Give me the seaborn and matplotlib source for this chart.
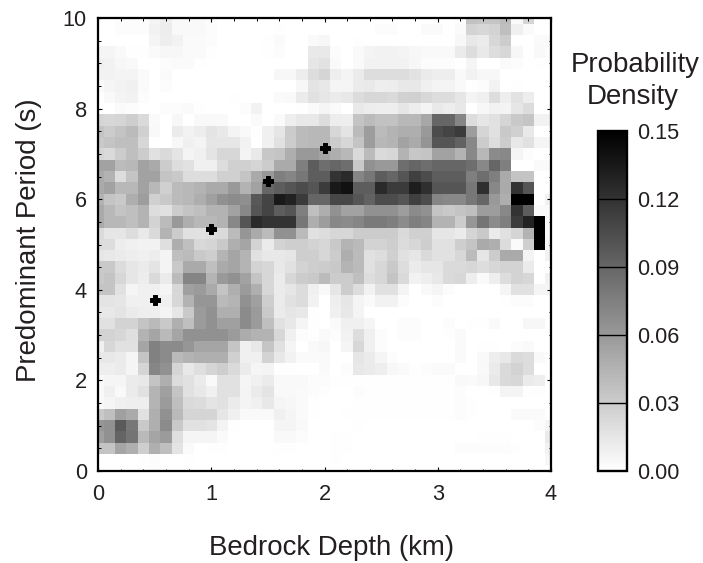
import numpy as np
import pandas as pd
import matplotlib
matplotlib.use("Agg")
import matplotlib.pyplot as plt
import seaborn as sns

# --- DATA ---
# grid nodes, cells are centred on these
depths = [round(0.1 * i, 1) for i in range(41)]
periods = [10 - 0.25 * i for i in range(41)]

# density x 1000, one row per period from 10 s down to 0 s
r00 = [0,0,2,2,2,7,10,4,4,4,2,0,0,0,0,0,0,0,0,0, 0,0,0,0,0,0,0,0,0,0,0,0,2,36,34,34,40,3,25,1,0]
r01 = [0,0,2,2,2,8,11,4,4,4,2,0,0,0,0,0,1,0,0,0, 0,0,0,0,0,2,2,0,0,3,3,0,3,26,24,26,38,9,3,0,0]
r02 = [0,0,0,0,0,6,10,8,3,3,2,0,0,0,0,1,3,0,0,3, 5,0,0,1,0,0,0,0,0,0,0,0,5,14,12,24,30,0,0,3,3]
r03 = [6,6,4,1,1,3,5,5,3,3,1,0,0,0,0,1,2,0,0,13, 13,2,0,3,7,8,8,7,5,4,4,4,12,20,13,20,24,5,0,4,2]
r04 = [9,8,5,4,0,0,2,3,3,1,0,0,0,0,0,0,0,0,0,15, 17,3,0,3,8,8,8,8,5,2,2,2,0,6,0,0,3,2,0,1,1]
r05 = [8,8,7,7,3,0,3,0,0,0,0,0,0,0,0,0,5,5,11,20, 25,10,7,12,20,20,20,20,17,12,10,10,4,8,5,5,0,0,0,0,0]
r06 = [3,6,8,9,3,0,2,0,0,0,0,0,0,0,0,0,0,0,5,16, 14,6,6,12,13,10,11,14,14,9,7,7,4,1,2,8,0,1,0,0,0]
r07 = [1,4,7,8,2,0,0,0,0,0,0,0,1,0,0,0,3,4,12,18, 15,12,14,21,24,24,22,27,28,24,20,20,15,7,9,20,10,17,11,0,0]
r08 = [0,0,3,2,0,0,2,2,3,1,0,0,0,2,8,0,0,0,1,3, 6,3,0,13,11,10,10,15,11,7,13,11,14,0,5,8,7,15,21,0,0]
r09 = [25,24,25,29,22,3,0,5,0,4,4,4,0,0,3,0,3,10,14,14, 20,11,10,35,40,36,36,42,42,52,90,90,72,20,15,18,25,32,34,8,8]
r10 = [35,30,35,40,28,4,0,12,8,11,16,13,7,4,1,9,15,31,40,42, 42,24,16,40,58,40,45,48,48,60,105,110,115,58,25,18,32,28,13,0,0]
r11 = [32,35,38,38,24,0,0,5,9,7,15,15,15,8,0,9,18,30,40,42, 42,30,24,35,58,42,44,55,50,63,100,100,92,70,30,20,30,14,18,6,6]
r12 = [25,22,30,38,30,18,22,16,7,9,16,24,24,7,13,33,35,48,60,60, 55,48,42,22,40,22,24,45,33,35,55,55,45,70,42,68,70,6,2,0,0]
r13 = [55,55,40,42,55,50,30,20,18,9,9,20,28,28,25,30,50,50,75,95, 85,90,85,32,65,60,60,85,90,85,90,90,90,85,70,90,75,0,0,3,3]
r14 = [50,45,20,35,55,55,35,32,20,20,20,28,28,35,50,60,75,72,80,95, 95,120,125,72,80,95,90,100,112,105,95,95,95,75,85,75,50,35,35,0,0]
r15 = [50,55,42,42,55,42,28,40,42,45,50,50,60,45,55,90,95,100,105,100, 115,135,140,95,95,125,115,115,132,122,100,100,100,80,122,70,50,120,100,0,0]
r16 = [45,35,32,48,58,28,32,40,42,48,56,65,68,66,98,110,135,130,115,90, 90,108,108,100,92,105,105,100,112,105,72,70,70,80,90,60,48,150,150,0,8]
r17 = [50,42,35,38,45,20,18,30,35,38,45,45,55,70,100,110,95,100,75,38, 48,65,55,55,65,65,65,58,68,65,35,32,35,38,58,58,70,120,95,3,3]
r18 = [50,42,42,38,45,26,40,60,48,42,42,45,70,100,125,120,120,120,80,48, 58,70,68,72,78,78,75,68,75,72,45,45,30,62,82,68,75,115,130,150,3]
r19 = [22,15,15,20,13,22,45,30,18,18,20,22,40,62,50,40,65,65,40,18, 20,24,24,30,30,30,30,22,28,28,15,15,12,25,32,12,18,25,45,150,3]
r20 = [20,20,11,9,8,8,19,48,38,23,25,32,47,53,26,12,26,29,29,26, 24,32,44,41,26,26,29,21,24,29,18,18,29,35,50,47,21,3,29,150,5]
r21 = [15,14,12,10,9,11,7,38,40,32,29,44,53,44,18,14,14,15,29,29, 24,30,48,40,18,20,28,18,15,22,18,18,24,40,15,30,50,50,7,0,8]
r22 = [32,32,21,15,12,16,7,32,50,50,38,50,53,44,26,24,14,18,26,29, 30,32,44,40,18,24,32,20,12,15,15,22,22,24,20,24,26,26,12,0,0]
r23 = [32,35,24,15,11,22,12,40,72,72,44,60,65,55,35,24,12,24,30,32, 40,30,30,38,20,24,35,22,8,10,14,22,24,10,3,10,20,26,24,0,8]
r24 = [35,35,18,6,9,9,6,24,56,59,50,35,47,59,47,24,12,15,21,9, 4,15,30,20,8,18,18,7,0,4,6,2,0,0,0,0,6,18,18,6,6]
r25 = [16,16,15,9,9,9,9,24,45,62,62,41,44,65,56,29,12,18,21,8, 0,10,15,7,3,8,8,2,0,0,2,0,0,0,0,0,1,2,2,0,0]
r26 = [14,14,16,12,10,10,7,15,32,59,65,47,47,68,59,32,12,15,14,1, 0,9,14,7,0,0,0,0,0,0,0,0,0,0,0,0,0,0,0,0,0]
r27 = [18,18,26,26,35,41,32,47,38,59,65,56,56,68,59,38,18,14,6,1, 0,3,9,9,6,0,0,2,2,0,0,2,0,1,1,3,0,0,5,5,0]
r28 = [26,26,24,19,45,53,41,53,65,65,65,65,59,49,45,45,24,9,2,1, 3,2,8,20,9,2,0,2,2,0,0,1,3,0,0,0,0,0,0,0,0]
r29 = [9,24,18,18,53,74,68,68,62,53,53,53,34,9,14,34,18,6,0,4, 5,0,6,24,9,2,0,0,0,0,0,0,3,0,1,1,0,2,3,0,0]
r30 = [14,14,12,6,35,74,68,41,45,47,47,47,28,9,9,26,14,8,3,3, 3,0,0,15,12,6,2,0,0,0,0,0,3,0,4,10,14,22,20,4,0]
r31 = [10,10,12,6,25,71,65,25,14,19,25,29,22,12,6,7,1,1,0,0, 3,0,2,14,12,10,5,3,1,2,3,3,0,0,4,12,22,26,20,0,0]
r32 = [4,6,6,12,14,35,47,21,18,12,4,18,18,6,9,12,4,4,4,2, 2,1,1,1,1,1,1,1,1,1,1,1,4,3,5,14,22,24,12,10,0]
r33 = [4,9,4,12,18,44,56,35,18,14,9,18,18,7,12,16,4,4,3,2, 1,0,0,2,1,1,1,1,1,1,1,1,2,0,0,1,7,7,1,1,0]
r34 = [3,6,9,10,10,44,59,38,22,21,16,18,12,7,9,14,6,5,3,1, 0,0,0,1,1,1,1,1,1,1,1,1,2,1,0,0,0,0,0,0,0]
r35 = [32,38,56,50,18,47,65,41,25,25,25,15,9,4,4,4,9,6,3,1, 0,0,1,1,1,1,1,1,1,1,1,1,2,1,0,0,0,3,3,3,0]
r36 = [62,65,97,80,32,47,68,32,18,18,16,7,1,0,0,0,6,6,4,0, 0,0,0,1,0,0,0,0,0,0,0,0,0,0,0,0,0,0,0,2,6]
r37 = [56,65,91,82,41,53,59,19,6,6,6,3,0,0,0,0,4,4,2,0, 0,1,1,0,0,0,0,0,0,0,0,0,0,0,1,1,1,0,0,0,12]
r38 = [35,35,53,47,29,47,38,16,3,0,1,1,0,0,0,0,1,1,0,0, 0,1,1,0,0,0,0,0,0,0,0,0,2,2,2,2,2,1,0,0,8]
r39 = [0,0,0,0,1,2,0,0,1,0,0,0,0,0,0,0,0,0,0,0, 0,1,0,0,0,0,0,0,0,0,0,0,0,0,0,0,0,0,0,0,5]
r40 = [0,0,0,0,1,2,0,0,1,0,0,0,0,0,0,0,0,0,0,0, 0,0,0,0,0,0,0,0,0,0,0,0,0,0,0,0,0,0,0,0,0]
rows = [r00,r01,r02,r03,r04,r05,r06,r07,r08,r09,r10,r11,r12,r13,r14,r15,r16,r17,r18,r19,
        r20,r21,r22,r23,r24,r25,r26,r27,r28,r29,r30,r31,r32,r33,r34,r35,r36,r37,r38,r39,r40]

# black markers
mark_depth = [0.5, 1.0, 1.5, 2.0]
mark_period = [3.78, 5.35, 6.4, 7.13]

x_major = [0, 1, 2, 3, 4]
y_major = [0, 2, 4, 6, 8, 10]
cbar_ticks = [0.0, 0.03, 0.06, 0.09, 0.12, 0.15]
cbar_labels = ["0.00", "0.03", "0.06", "0.09", "0.12", "0.15"]

df = pd.DataFrame(np.array(rows) / 1000.0, index=periods, columns=depths)

# heatmap cells sit on integer+0.5 positions
def x_pos(d):
    return np.asarray(d) / 0.1 + 0.5

def y_pos(p):
    return (10 - np.asarray(p)) / 0.25 + 0.5

plt.rcParams['font.family'] = ['Liberation Sans', 'DejaVu Sans']
INK = '#231f20'

W, H = 703, 563
fig = plt.figure(figsize=(W / 100, H / 100), dpi=100)
ax = fig.add_axes([98 / W, (H - 471) / H, 453 / W, 453 / H])
cax = fig.add_axes([598 / W, (H - 471) / H, 29 / W, 340 / H])

sns.heatmap(df, ax=ax, cbar_ax=cax, cmap='gray_r', vmin=0, vmax=0.15,
            xticklabels=False, yticklabels=False,
            cbar_kws={'ticks': cbar_ticks})

# cut the outer half cells, axis runs from node 0 to node 40
ax.set_xlim(x_pos(0), x_pos(4))
ax.set_ylim(y_pos(0), y_pos(10))

ax.scatter(x_pos(mark_depth), y_pos(mark_period), marker='P', s=42, color='black',
           edgecolors='black', linewidths=0.7, zorder=5)

for s in ax.spines.values():
    s.set_visible(True)
    s.set_linewidth(1.6)
    s.set_color('black')

ax.set_xticks(x_pos(x_major))
ax.set_xticklabels(x_major)
ax.set_yticks(y_pos(y_major))
ax.set_yticklabels(y_major, rotation=0)
ax.set_xticks(x_pos(np.arange(0, 4.01, 0.2)), minor=True)
ax.set_yticks(y_pos(np.arange(0, 10.01, 0.5)), minor=True)
ax.tick_params(which='major', direction='in', length=3.2, width=0.8, top=True, right=True,
               labelsize=15.7, labelcolor=INK)
ax.tick_params(which='minor', direction='in', length=1.8, width=0.7, top=True, right=True)
ax.tick_params(axis='x', which='major', pad=9)
ax.tick_params(axis='y', which='major', pad=8)

ax.set_xlabel("Bedrock Depth (km)", fontsize=19.9, color=INK, va='baseline')
ax.xaxis.set_label_coords((332 - 98) / 453, (471 - 555) / 453)
ax.set_ylabel("Predominant Period (s)", fontsize=19.9, color=INK, va='baseline')
ax.yaxis.set_label_coords((36 - 98) / 453, (471 - 240) / 453)

cbar = ax.collections[0].colorbar
cbar.outline.set_visible(True)
cbar.outline.set_linewidth(1.7)
cbar.outline.set_edgecolor('black')
cbar.set_ticklabels(cbar_labels)
cbar.ax.tick_params(length=0, labelsize=15.7, labelcolor=INK, pad=7)
for t in cbar_ticks[1:-1]:
    cbar.ax.axhline(t, color='black', lw=1.0)

fig.text(635 / W, 1 - 72 / H, "Probability", fontsize=19.9, color=INK, ha='center', va='baseline')
fig.text(633 / W, 1 - 104 / H, "Density", fontsize=19.9, color=INK, ha='center', va='baseline')

fig.savefig("out.png", dpi=100)
